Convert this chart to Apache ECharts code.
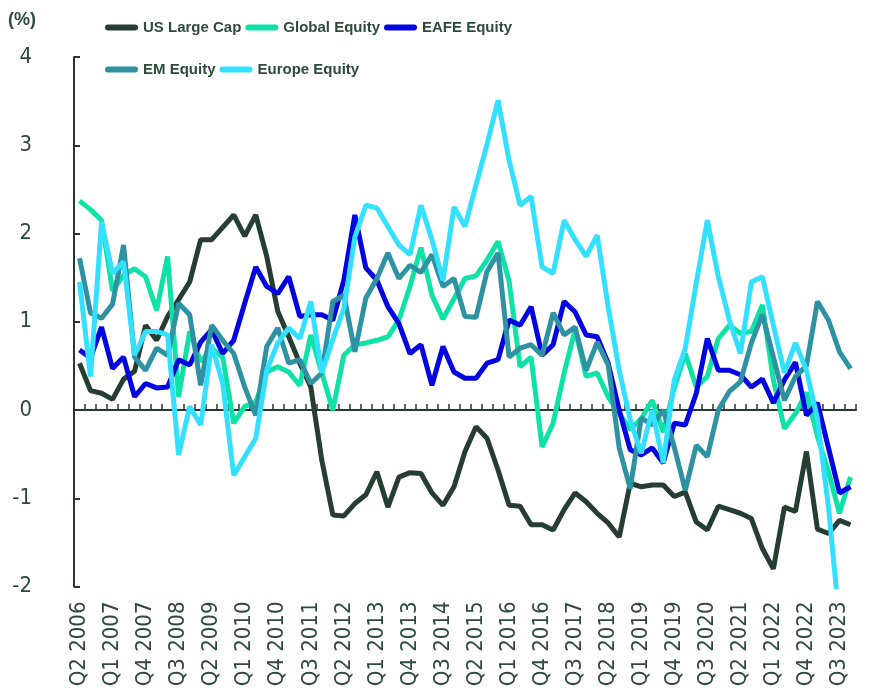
<!DOCTYPE html>
<html><head><meta charset="utf-8">
<script src="https://cdn.jsdelivr.net/npm/echarts@6/dist/echarts.min.js"></script>
<style>html,body{margin:0;padding:0;background:#fff}#c{width:885px;height:694px}</style>
</head><body><div id="c"></div>
<script>
const categories = [
 'Q2 2006','Q3 2006','Q4 2006',
 'Q1 2007','Q2 2007','Q3 2007','Q4 2007',
 'Q1 2008','Q2 2008','Q3 2008','Q4 2008',
 'Q1 2009','Q2 2009','Q3 2009','Q4 2009',
 'Q1 2010','Q2 2010','Q3 2010','Q4 2010',
 'Q1 2011','Q2 2011','Q3 2011','Q4 2011',
 'Q1 2012','Q2 2012','Q3 2012','Q4 2012',
 'Q1 2013','Q2 2013','Q3 2013','Q4 2013',
 'Q1 2014','Q2 2014','Q3 2014','Q4 2014',
 'Q1 2015','Q2 2015','Q3 2015','Q4 2015',
 'Q1 2016','Q2 2016','Q3 2016','Q4 2016',
 'Q1 2017','Q2 2017','Q3 2017','Q4 2017',
 'Q1 2018','Q2 2018','Q3 2018','Q4 2018',
 'Q1 2019','Q2 2019','Q3 2019','Q4 2019',
 'Q1 2020','Q2 2020','Q3 2020','Q4 2020',
 'Q1 2021','Q2 2021','Q3 2021','Q4 2021',
 'Q1 2022','Q2 2022','Q3 2022','Q4 2022',
 'Q1 2023','Q2 2023','Q3 2023','Q4 2023'
];
const seriesNames = ['US Large Cap','Global Equity','EAFE Equity','EM Equity','Europe Equity'];
const usLargeCap = [0.53,0.22,0.19,0.12,0.35,0.44,0.96,0.79,1.06,1.25,1.45,1.93,1.93,2.07,2.21,1.97,2.21,1.74,1.12,0.83,
 0.53,0.26,-0.57,-1.19,-1.2,-1.06,-0.96,-0.7,-1.1,-0.76,-0.71,-0.72,-0.94,-1.08,-0.87,-0.47,-0.19,-0.32,-0.68,-1.08,
 -1.09,-1.3,-1.3,-1.36,-1.13,-0.94,-1.04,-1.17,-1.28,-1.44,-0.83,-0.87,-0.85,-0.85,-0.98,-0.93,-1.27,-1.36,-1.09,-1.13,
 -1.17,-1.23,-1.57,-1.8,-1.1,-1.15,-0.47,-1.35,-1.4,-1.25,-1.3];
const globalEquity = [2.37,2.27,2.15,1.35,1.53,1.6,1.51,1.13,1.74,0.15,0.89,0.55,0.7,0.6,-0.15,0.04,0.09,0.43,0.49,0.43,
 0.28,0.85,0.42,0.0,0.62,0.74,0.76,0.79,0.83,1.02,1.4,1.84,1.3,1.03,1.26,1.49,1.52,1.7,1.91,1.46,
 0.49,0.6,-0.42,-0.15,0.42,0.91,0.38,0.42,0.15,-0.04,-0.22,-0.1,0.11,-0.25,0.25,0.64,0.26,0.38,0.81,0.96,
 0.87,0.89,1.19,0.34,-0.21,-0.04,0.2,-0.3,-0.7,-1.17,-0.76];
const eafeEquity = [0.68,0.59,0.94,0.47,0.6,0.15,0.3,0.25,0.26,0.57,0.51,0.77,0.91,0.64,0.79,1.21,1.62,1.4,1.32,1.51,
 1.06,1.08,1.08,1.02,1.47,2.21,1.61,1.47,1.17,0.98,0.64,0.74,0.28,0.72,0.43,0.36,0.36,0.53,0.57,1.02,
 0.96,1.17,0.62,0.74,1.23,1.11,0.85,0.83,0.53,0.0,-0.45,-0.51,-0.43,-0.6,-0.15,-0.17,0.19,0.81,0.45,0.45,
 0.4,0.26,0.35,0.08,0.34,0.54,-0.06,0.08,-0.43,-0.94,-0.87];
const emEquity = [1.72,1.1,1.04,1.2,1.87,0.6,0.45,0.7,0.62,1.21,1.08,0.28,0.96,0.79,0.64,0.26,-0.06,0.72,0.93,0.53,
 0.57,0.3,0.42,1.23,1.3,0.66,1.27,1.49,1.78,1.49,1.64,1.56,1.76,1.4,1.49,1.06,1.05,1.57,1.78,0.6,
 0.7,0.74,0.62,1.1,0.85,0.94,0.45,0.77,0.51,-0.43,-0.89,-0.09,-0.17,0.0,-0.42,-0.91,-0.4,-0.53,0.0,0.21,
 0.32,0.76,1.08,0.6,0.11,0.38,0.5,1.23,1.02,0.66,0.47];
const europeEquity = [1.45,0.38,2.13,1.55,1.68,0.62,0.89,0.89,0.85,-0.51,0.04,-0.17,0.74,0.3,-0.74,-0.53,-0.32,0.45,0.76,0.93,
 0.81,1.23,0.42,0.8,1.15,1.96,2.32,2.29,2.08,1.87,1.76,2.32,1.93,1.47,2.3,2.08,2.55,3.01,3.51,2.83,
 2.32,2.42,1.62,1.55,2.15,1.93,1.74,1.98,1.17,0.45,-0.11,-0.49,0.0,-0.6,0.34,0.7,1.44,2.15,1.51,1.02,
 0.64,1.45,1.51,0.96,0.42,0.76,0.45,-0.1,-1.1,-2.4,-2.6];
const seriesData = [usLargeCap, globalEquity, eafeEquity, emEquity, europeEquity];
const colors = ['#263d31','#0fe2a6','#0404e0','#2e92a2','#33e0ff'];
const yTicks = {min: -2, max: 4, interval: 1};

const FONT = "'DejaVu Sans Condensed','Liberation Sans',sans-serif";
const FONT_B = "'Liberation Sans',Arial,sans-serif";
const TXT = '#2d4a3b';
const AX = '#27392f';
const chart = echarts.init(document.getElementById('c'), null, {renderer: 'canvas'});
const capsule = 'path://M3,0L30,0A3,3,0,0,1,30,6L3,6A3,3,0,0,1,3,0Z';
const legendCommon = {
  orient: 'horizontal', left: 105, itemWidth: 33, itemHeight: 6, itemGap: 4,
  icon: capsule, padding: 0,
  textStyle: {fontFamily: FONT_B, fontWeight: 'bold', fontSize: 15, color: TXT, width: 98}
};
chart.setOption({
  animation: false,
  backgroundColor: '#fff',
  graphic: [{type: 'text', left: 8, top: 11, style: {text: '(%)', fontFamily: FONT_B, fontWeight: 'bold', fontSize: 18, fill: TXT}}],
  legend: [
    Object.assign({top: 20, data: seriesNames.slice(0, 3)}, legendCommon),
    Object.assign({top: 62, data: seriesNames.slice(3)}, legendCommon)
  ],
  grid: {left: 74, right: 29, top: 57, bottom: 107.5, containLabel: false},
  xAxis: [
    {type: 'category', data: categories, boundaryGap: true, position: 'bottom',
     axisLine: {show: false, onZero: false}, axisTick: {show: false},
     axisLabel: {interval: 2, rotate: 90, margin: 15, fontFamily: FONT, fontSize: 22, color: TXT}},
    {type: 'category', data: categories, boundaryGap: true, position: 'bottom',
     axisLine: {show: true, onZero: true, lineStyle: {color: AX, width: 2}},
     axisTick: {show: true, inside: true, interval: 0, length: 6, lineStyle: {color: AX, width: 1.5}},
     axisLabel: {show: false}}
  ],
  yAxis: {type: 'value', min: yTicks.min, max: yTicks.max, interval: yTicks.interval,
    axisLine: {show: true, lineStyle: {color: AX, width: 2}},
    axisTick: {show: true, inside: true, length: 6, lineStyle: {color: AX, width: 2}},
    splitLine: {show: false},
    axisLabel: {margin: 42, fontFamily: FONT, fontSize: 22, color: TXT}},
  series: seriesNames.map((n, k) => ({
    name: n, type: 'line', data: seriesData[k], xAxisIndex: 0,
    showSymbol: false, symbol: 'none', color: colors[k],
    itemStyle: {color: colors[k]},
    lineStyle: {color: colors[k], width: 5},
    clip: true, z: 2 + k
  }))
});
</script></body></html>
